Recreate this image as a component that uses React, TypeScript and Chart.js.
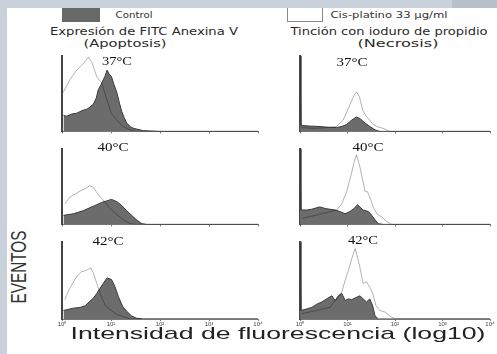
import React, { useEffect, useRef, useMemo } from 'react';
import { Chart, registerables } from 'chart.js';
Chart.register(...registerables);

// ---------- data ----------
const decadeLabels = ['10⁰', '10¹', '10²', '10³', '10⁴'];
const yTickLabels = ['0', '8'];
const temperatures = ['37°C', '40°C', '42°C'];
const seriesNames = ['Control', 'Cis-platino 33 µg/ml'];
const columnTitles = ['Expresión de FITC Anexina V', 'Tinción con ioduro de propidio'];
const columnSubtitles = ['(Apoptosis)', '(Necrosis)'];
const yAxisTitle = 'EVENTOS';
const xAxisTitle = 'Intensidad de fluorescencia (log10)';

// x = log10 fluorescence, y = events (% of axis height)
const apo37CtrlX = [0.03, 0.1, 0.2, 0.3, 0.43, 0.5, 0.57, 0.64, 0.7, 0.74, 0.8, 0.84, 0.88, 0.92, 0.96, 1.01, 1.06, 1.12, 1.17, 1.22, 1.27, 1.32, 1.4, 1.46, 1.66, 2.0, 4.0];
const apo37CtrlY = [21, 20, 23, 24, 28, 29, 32, 36, 44, 55, 62, 68, 73, 81, 76, 72, 62, 51, 38, 26, 18, 11, 6, 4, 1, 0, 0];
const apo37CisX = [0.02, 0.16, 0.3, 0.43, 0.54, 0.61, 0.71, 0.81, 0.91, 1.01, 1.12, 1.25, 1.39, 1.52, 4.0];
const apo37CisY = [51, 68, 81, 89, 98, 91, 72, 64, 43, 23, 15, 6, 2, 0, 0];

const nec37CtrlX = [0, 0.02, 0.2, 0.4, 0.6, 0.77, 0.9, 0.98, 1.09, 1.19, 1.26, 1.37, 1.47, 1.58, 1.68, 4.0];
const nec37CtrlY = [100, 8, 7, 6.5, 5.5, 5, 7, 9, 15, 19, 17, 11, 6.5, 2, 0, 0];
const nec37CisX = [0.03, 0.3, 0.6, 0.77, 0.91, 1.05, 1.14, 1.19, 1.25, 1.32, 1.39, 1.44, 1.51, 1.61, 1.75, 1.89, 4.0];
const nec37CisY = [5, 4, 5, 6.5, 15, 35, 48, 52, 46, 28, 20, 17, 11, 6.5, 4, 0, 0];

const apo40CtrlX = [0.03, 0.23, 0.43, 0.57, 0.71, 0.81, 0.91, 1.01, 1.12, 1.22, 1.32, 1.42, 1.52, 1.63, 1.73, 4.0];
const apo40CtrlY = [12, 14, 18, 22, 26, 29, 31, 33, 30, 25, 18, 12, 6, 1, 0, 0];
const apo40CisX = [0.06, 0.16, 0.27, 0.37, 0.47, 0.57, 0.64, 0.71, 0.78, 0.88, 0.98, 1.12, 1.25, 1.39, 1.52, 4.0];
const apo40CisY = [27, 36, 40, 44, 47, 51, 49, 42, 36, 29, 21, 13, 6, 1, 0, 0];

const nec40CtrlX = [0, 0.02, 0.14, 0.25, 0.35, 0.42, 0.53, 0.63, 0.74, 0.84, 0.95, 1.05, 1.14, 1.21, 1.26, 1.33, 1.44, 1.51, 1.58, 1.65, 1.75, 4.0];
const nec40CtrlY = [100, 19, 19, 20, 22, 23, 21, 20, 19, 17, 14, 17, 21, 26, 23, 19, 17, 12, 6, 1, 0, 0];
const nec40CisX = [0.04, 0.4, 0.77, 0.88, 0.98, 1.07, 1.14, 1.19, 1.25, 1.3, 1.37, 1.42, 1.47, 1.54, 1.63, 1.72, 1.82, 1.93, 4.0];
const nec40CisY = [8, 13, 19, 27, 43, 64, 82, 92, 79, 64, 44, 43, 36, 23, 13, 10, 4, 0, 0];

const apo42CtrlX = [0.03, 0.23, 0.37, 0.47, 0.57, 0.64, 0.71, 0.78, 0.84, 0.92, 1.01, 1.08, 1.15, 1.24, 1.32, 1.42, 1.52, 1.66, 4.0];
const apo42CtrlY = [11, 14, 15, 17, 23, 27, 33, 40, 46, 53, 51, 42, 29, 16, 10, 4, 1, 0, 0];
const apo42CisX = [0.06, 0.13, 0.2, 0.3, 0.4, 0.5, 0.59, 0.64, 0.71, 0.79, 0.88, 0.98, 1.12, 1.25, 1.39, 4.0];
const apo42CisY = [25, 36, 44, 55, 61, 63, 66, 59, 46, 31, 18, 12, 6, 3, 0, 0];

const nec42CtrlX = [0, 0.02, 0.14, 0.25, 0.35, 0.46, 0.56, 0.67, 0.74, 0.81, 0.88, 0.95, 1.02, 1.09, 1.19, 1.26, 1.33, 1.4, 1.47, 1.53, 1.58, 1.65, 4.0];
const nec42CtrlY = [100, 11, 13, 15, 19, 22, 26, 30, 24, 30, 33, 24, 26, 25, 28, 30, 26, 22, 26, 17, 4, 0, 0];
const nec42CisX = [0.04, 0.35, 0.63, 0.77, 0.88, 0.95, 1.02, 1.09, 1.16, 1.21, 1.26, 1.33, 1.4, 1.47, 1.53, 1.6, 1.68, 1.79, 1.89, 2.0, 4.0];
const nec42CisY = [7, 11, 15, 26, 35, 50, 63, 78, 91, 80, 67, 46, 48, 41, 33, 17, 11, 9, 4, 0, 0];

// ---------- layout ----------
const YW = 9;
const PT = 4;
const PR = 7;

const toPoints = (xs: number[], ys: number[]) => xs.map((x, i) => ({ x, y: ys[i] }));

type PanelProps = {
  left: number; top: number; w: number; h: number; bottom: boolean;
  ctrlX: number[]; ctrlY: number[]; cisX: number[]; cisY: number[];
};

function Panel({ left, top, w, h, bottom, ctrlX, ctrlY, cisX, cisY }: PanelProps) {
  const ref = useRef<HTMLCanvasElement | null>(null);
  const XH = bottom ? 10 : 3;
  const cw = YW + w + PR;
  const ch = PT + h + XH;
  useEffect(() => {
    if (!ref.current) return;
    const chart = new Chart(ref.current, {
      type: 'line',
      data: {
        datasets: [
          {
            label: seriesNames[1],
            data: toPoints(cisX, cisY),
            borderColor: 'rgba(0,0,0,0.3)',
            borderWidth: 1,
            pointRadius: 0,
            fill: false,
            tension: 0,
          },
          {
            label: seriesNames[0],
            data: toPoints(ctrlX, ctrlY),
            borderColor: '#3a3a3a',
            backgroundColor: '#6c6c6c',
            borderWidth: 1,
            pointRadius: 0,
            fill: 'origin',
            tension: 0,
          },
        ],
      },
      options: {
        responsive: false,
        animation: false,
        maintainAspectRatio: false,
        layout: { padding: { top: PT, right: PR, left: 0, bottom: 0 } },
        plugins: { legend: { display: false }, tooltip: { enabled: false } },
        scales: {
          x: {
            type: 'linear',
            min: 0,
            max: 4,
            afterFit: (s: any) => { s.height = XH; },
            afterBuildTicks: (s: any) => { s.ticks = decadeLabels.map((_, i) => ({ value: i })); },
            ticks: {
              display: bottom,
              callback: (v: any) => decadeLabels[Math.round(Number(v))],
              font: { size: 6, family: 'Arial' },
              color: '#444',
              padding: 0,
              maxRotation: 0,
              autoSkip: false,
            },
            grid: { display: true, drawOnChartArea: false, drawTicks: true, tickLength: 2, color: '#777' },
            border: { display: true, color: '#777', width: 1 },
          },
          y: {
            type: 'linear',
            min: 0,
            max: 100,
            afterFit: (s: any) => { s.width = YW; },
            afterBuildTicks: (s: any) => { s.ticks = [{ value: 0 }, { value: 100 }]; },
            ticks: {
              callback: (v: any) => (Number(v) >= 100 ? yTickLabels[1] : yTickLabels[0]),
              font: { size: 6, family: 'Arial' },
              color: '#444',
              padding: 1,
            },
            grid: { display: false },
            border: { display: true, color: '#444', width: 2 },
          },
        },
      },
    } as any);
    return () => chart.destroy();
  }, []);
  return (
    <canvas
      ref={ref}
      width={cw}
      height={ch}
      style={{ position: 'absolute', left: left - YW, top: top - PT, width: cw, height: ch }}
    />
  );
}

let measureCtx: CanvasRenderingContext2D | null = null;
function textWidth(text: string, font: string) {
  if (!measureCtx) measureCtx = document.createElement('canvas').getContext('2d');
  if (!measureCtx) return 1;
  measureCtx.font = font;
  return measureCtx.measureText(text).width || 1;
}

type LabelProps = {
  text: string; cx: number; cy: number; size: number; family: string; width: number;
  color?: string; rotate?: boolean; weight?: number;
};
function Label({ text, cx, cy, size, family, width, color = '#222', rotate = false, weight = 400 }: LabelProps) {
  const k = useMemo(() => width / textWidth(text, `${weight} ${size}px ${family}`), [text, size, family, width, weight]);
  return (
    <div
      style={{
        position: 'absolute',
        left: cx,
        top: cy,
        whiteSpace: 'nowrap',
        fontFamily: family,
        fontSize: size,
        fontWeight: weight,
        lineHeight: 1,
        color,
        transform: `translate(-50%,-50%) ${rotate ? 'rotate(-90deg) ' : ''}scaleX(${k})`,
        transformOrigin: 'center center',
      }}
    >
      {text}
    </div>
  );
}

const LX = 62, LW = 196, RX = 300, RW = 190, PH = 78;
const rows = [55, 148, 241];

export default function App() {
  return (
    <div style={{ position: 'fixed', left: 0, top: 0, width: 497, height: 354, background: '#fff', overflow: 'hidden' }}>
      <div style={{ position: 'absolute', left: 0, top: 0, width: 497, height: 8, background: '#c9d1da' }} />
      <div style={{ position: 'absolute', left: 452, top: 0, width: 45, height: 8, background: '#b7bfc9' }} />
      <div style={{ position: 'absolute', left: 0, top: 0, width: 7, height: 354, background: '#c9d1da' }} />

      <div style={{ position: 'absolute', left: 62, top: 8, width: 38, height: 14, background: '#686868' }} />
      <Label text={seriesNames[0]} cx={133.5} cy={15} size={9} family="'DejaVu Sans'" width={37} color="#333" />
      <div style={{ position: 'absolute', left: 287, top: 8, width: 34, height: 13, background: '#fff', border: '1px solid #8a8a8a', borderTop: 'none' }} />
      <Label text={seriesNames[1]} cx={388.5} cy={15} size={9.5} family="'DejaVu Sans'" width={117} color="#333" />

      <Label text={columnTitles[0]} cx={144} cy={32} size={10} family="'DejaVu Sans'" width={188} color="#2a2a2a" />
      <Label text={columnSubtitles[0]} cx={124.5} cy={43.5} size={10} family="'DejaVu Sans'" width={83} color="#2a2a2a" />
      <Label text={columnTitles[1]} cx={388.5} cy={32} size={10} family="'DejaVu Sans'" width={197} color="#2a2a2a" />
      <Label text={columnSubtitles[1]} cx={397.5} cy={43.5} size={10} family="'DejaVu Sans'" width={81} color="#2a2a2a" />

      <Panel left={LX} top={rows[0]} w={LW} h={PH} bottom={false} ctrlX={apo37CtrlX} ctrlY={apo37CtrlY} cisX={apo37CisX} cisY={apo37CisY} />
      <Panel left={RX} top={rows[0]} w={RW} h={PH} bottom={false} ctrlX={nec37CtrlX} ctrlY={nec37CtrlY} cisX={nec37CisX} cisY={nec37CisY} />
      <Panel left={LX} top={rows[1]} w={LW} h={PH} bottom={false} ctrlX={apo40CtrlX} ctrlY={apo40CtrlY} cisX={apo40CisX} cisY={apo40CisY} />
      <Panel left={RX} top={rows[1]} w={RW} h={PH} bottom={false} ctrlX={nec40CtrlX} ctrlY={nec40CtrlY} cisX={nec40CisX} cisY={nec40CisY} />
      <Panel left={LX} top={rows[2]} w={LW} h={PH} bottom={true} ctrlX={apo42CtrlX} ctrlY={apo42CtrlY} cisX={apo42CisX} cisY={apo42CisY} />
      <Panel left={RX} top={rows[2]} w={RW} h={PH} bottom={true} ctrlX={nec42CtrlX} ctrlY={nec42CtrlY} cisX={nec42CisX} cisY={nec42CisY} />

      <Label text={temperatures[0]} cx={117} cy={61} size={12} family="'Liberation Serif'" width={30} color="#111" />
      <Label text={temperatures[0]} cx={351.5} cy={62} size={12} family="'Liberation Serif'" width={31} color="#111" />
      <Label text={temperatures[1]} cx={112.5} cy={147} size={12} family="'Liberation Serif'" width={31} color="#111" />
      <Label text={temperatures[1]} cx={367.5} cy={146.5} size={12} family="'Liberation Serif'" width={31} color="#111" />
      <Label text={temperatures[2]} cx={107.5} cy={241} size={12} family="'Liberation Serif'" width={31} color="#111" />
      <Label text={temperatures[2]} cx={363} cy={240} size={12} family="'Liberation Serif'" width={30} color="#111" />

      <Label text={yAxisTitle} cx={19} cy={267} size={22} family="'Liberation Sans'" width={73} color="#333" rotate />
      <Label text={xAxisTitle} cx={277.5} cy={333} size={17} family="'Liberation Sans'" width={415} color="#222" />
    </div>
  );
}
